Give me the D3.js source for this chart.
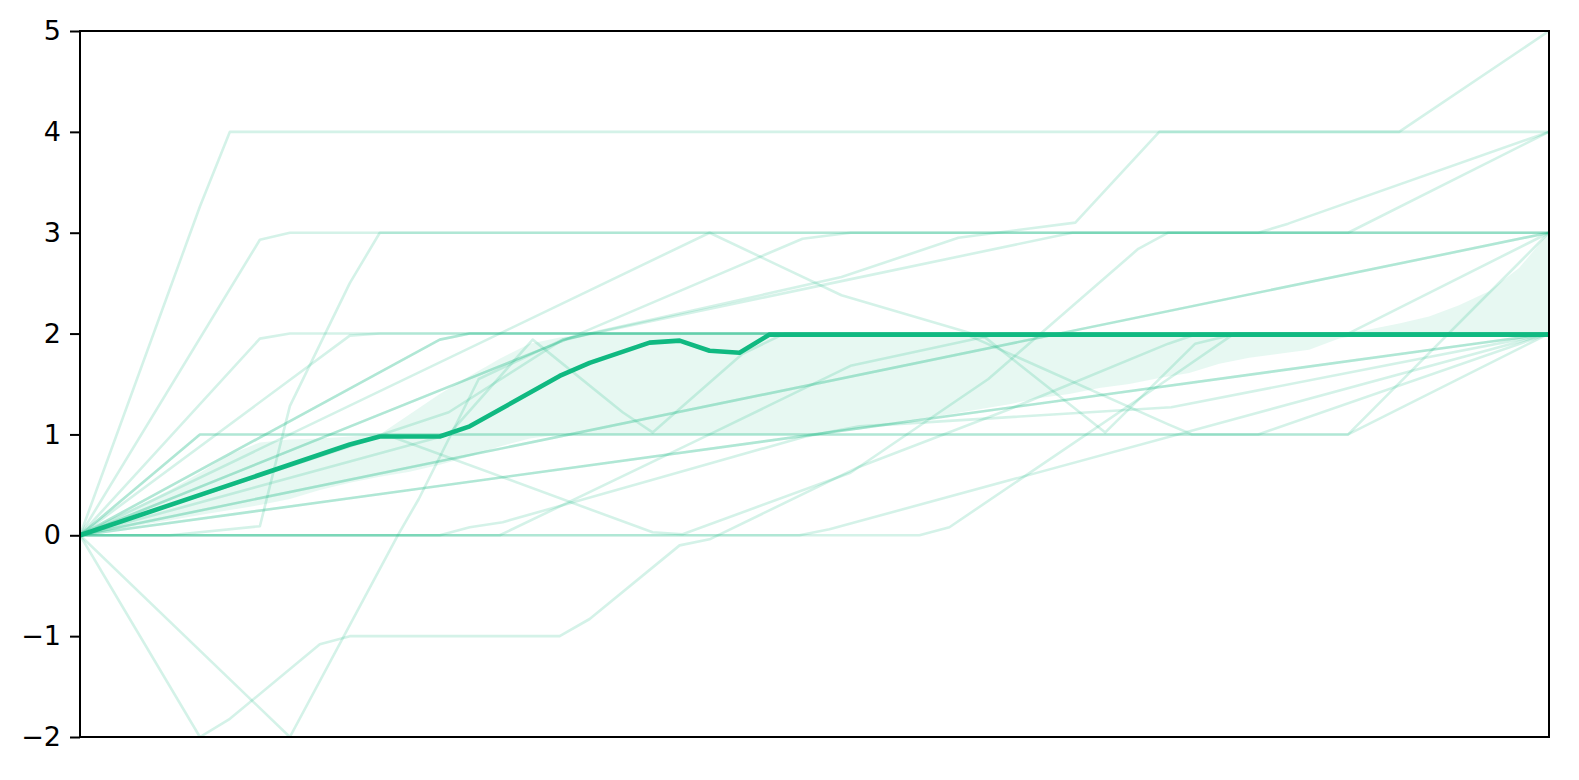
<!DOCTYPE html>
<html>
<head>
<meta charset="utf-8">
<script src="https://cdn.jsdelivr.net/npm/d3@7"></script>
<style>
  html, body { margin: 0; padding: 0; background: #ffffff; overflow: hidden; }
  svg { display: block; }
  text { font-family: "DejaVu Sans", sans-serif; }
</style>
</head>
<body>
<svg id="chart" width="1579" height="780"></svg>
<script>
// ---- data (time step, value) ----
const yTicks = [-2, -1, 0, 1, 2, 3, 4, 5];
const steps = d3.range(0, 50);

const meanLine = [[0,0],[9,0.9],[10,0.98],[12,0.98],[13,1.08],[16,1.58],[17,1.71],[19,1.91],[20,1.93],[21,1.83],[22,1.81],[23,1.99],[49,1.99]];

const bandLower = [0,0.05,0.1,0.15,0.2,0.25,0.3,0.36,0.45,0.52,
                   0.58,0.63,0.7,0.78,0.88,0.96,1.0,1.0,1.0,1.0,
                   1.0,1.0,1.0,1.0,1.0,1.02,1.05,1.1,1.15,1.2,
                   1.25,1.3,1.36,1.4,1.46,1.5,1.56,1.61,1.7,1.76,
                   1.8,1.84,1.95,2,2,2,2,2,2,2];
const bandUpper = [0,0.15,0.3,0.45,0.62,0.8,0.92,0.95,0.96,0.98,
                   1.0,1.2,1.4,1.58,1.75,1.9,1.96,2,2,2,
                   2,2,2,2,2,2,2,2,2,2,
                   2,2,2,2,2,2,2,2,2,2,
                   2,2,2,2.04,2.1,2.17,2.28,2.42,2.65,3.0];

const path01 = [[0,0],[4,3.26],[5,4],[49,4]];
const path02 = [[0,0],[6,2.93],[7,3],[39.3,3],[40.3,3.09],[49,4]];
const path03 = [[0,0],[3,0],[6,0.09],[7,1.28],[9,2.5],[10,3],[42.3,3],[49,4]];
const path04 = [[0,0],[12.3,1.22],[16.1,1.94],[25.4,2.56],[29.3,2.95],[33.2,3.1],[36,4],[44,4],[49,5]];
const path05 = [[0,0],[21,3],[25.4,2.38],[30.2,1.96],[34.2,1.02],[37.2,1.9],[38.6,2],[42.3,2],[49,3]];
const path06 = [[0,0],[16.2,1.94],[24.1,2.94],[25.7,3],[49,3]];
const path07 = [[0,0],[49,3]];
const path08 = [[0,0],[7,-2],[10.6,0],[11.3,0.36],[13.3,1.55],[16.1,1.94],[25.4,2.52],[33.1,3],[49,3]];
const path09 = [[0,0],[6,1.95],[7,2],[49,2]];
const path10 = [[0,0],[9,1.98],[10,2],[49,2]];
const path11 = [[0,0],[12,1.94],[13,2],[29.5,2],[36.3,1.1],[37.1,1.0],[39.3,1.0],[49,2]];
const path12 = [[0,0],[12.3,1],[15.1,1.94],[18.1,1.22],[19.1,1.02],[22.1,1.8],[23.5,2],[49,2]];
const path13 = [[0,0],[10.2,1],[19.1,0.03],[20.1,0.01],[25.7,0.62],[30.3,1.55],[35.3,2.84],[36.3,3],[49,3]];
const path14 = [[0,0],[4,1],[42.3,1],[49,2]];
const path15 = [[0,0],[4,-2],[5,-1.82],[8,-1.08],[9,-1],[16,-1],[17,-0.83],[20,-0.1],[21,-0.04],[26,0.68],[31,1.25],[36.3,1.9],[37.3,2],[49,2]];
const path16 = [[0,0],[49,2]];
const path17 = [[0,0],[49,2]];
const path18 = [[0,0],[24,0],[25,0.06],[49,2]];
const path19 = [[0,0],[12,0],[13,0.08],[14.1,0.13],[19.1,0.55],[24.2,0.98],[26,1.08],[36.4,1.27],[49,2]];
const path20 = [[0,0],[14,0],[21,1],[25.7,1.68],[30.7,2],[49,2]];
const path21 = [[0,0],[28,0],[29,0.08],[36.3,1.55],[38.5,2],[49,2]];
const path22 = [[0,0],[4,1],[42.3,1],[49,3]];
const path23 = [[0,0],[12,1.94],[13,2],[49,2]];
const path24 = [[0,0],[16.2,1.94],[17,2],[49,2]];
const path25 = [[0,0],[49,3]];

const paths = [path01,path02,path03,path04,path05,path06,path07,path08,path09,path10,path11,
               path12,path13,path14,path15,path16,path17,path18,path19,path20,path21,path22,
               path23,path24,path25];

// ---- layout ----
const svg = d3.select("#chart");
const L = 80, R = 1549, T = 31, B = 737;
const x = d3.scaleLinear().domain([0, 49]).range([L, R]);
const y = d3.scaleLinear().domain([-2, 5]).range([B, T]);
const color = "#10b981";

svg.append("defs").append("clipPath").attr("id", "clip")
  .append("rect").attr("x", L).attr("y", T).attr("width", R - L).attr("height", B - T);

const g = svg.append("g").attr("clip-path", "url(#clip)");

// band
const area = d3.area()
  .x((d, i) => x(steps[i]))
  .y0((d, i) => y(bandLower[i]))
  .y1((d, i) => y(bandUpper[i]));
g.append("path").datum(steps).attr("d", area)
  .attr("fill", color).attr("fill-opacity", 0.1).attr("stroke", "none");

// ensemble lines
const line = d3.line().x(d => x(d[0])).y(d => y(d[1]));
g.selectAll("path.member").data(paths).join("path")
  .attr("class", "member")
  .attr("d", line)
  .attr("fill", "none")
  .attr("stroke", color)
  .attr("stroke-opacity", 0.18)
  .attr("stroke-width", 2.6)
  .attr("stroke-linejoin", "round");

// bold line
g.append("path").datum(meanLine).attr("d", line)
  .attr("fill", "none").attr("stroke", color)
  .attr("stroke-width", 4.6).attr("stroke-linejoin", "round");

// axes
const yAxis = d3.axisLeft(y).tickValues(yTicks)
  .tickSize(10).tickPadding(9)
  .tickFormat(d => (d < 0 ? "\u2212" + Math.abs(d) : String(d)));
const ya = svg.append("g").attr("transform", `translate(${L},0)`).call(yAxis);
ya.attr("font-size", null).attr("font-family", null);
ya.select(".domain").remove();
ya.selectAll(".tick line").attr("stroke", "#000").attr("stroke-width", 2);
ya.selectAll(".tick text").attr("fill", "#000")
  .attr("font-family", "DejaVu Sans, sans-serif").attr("font-size", 27)
  .style("font-size", "27px");

// frame
svg.append("rect").attr("x", L).attr("y", T).attr("width", R - L).attr("height", B - T)
  .attr("fill", "none").attr("stroke", "#000").attr("stroke-width", 2);
</script>
</body>
</html>
